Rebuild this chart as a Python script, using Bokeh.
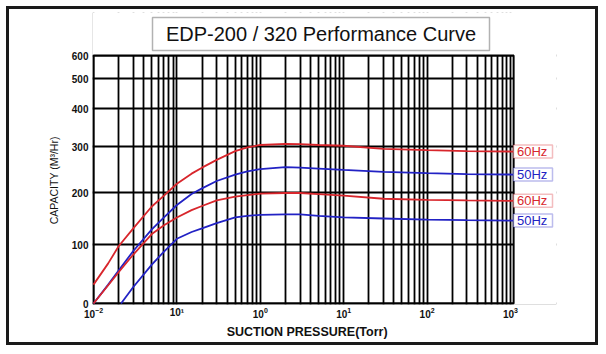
from bokeh.plotting import figure
from bokeh.models import FixedTicker, Label, PolyAnnotation, Range1d
from bokeh.embed import file_html
from bokeh.resources import INLINE
import numpy as np

# ---- data -------------------------------------------------------------
TITLE = "EDP-200 / 320 Performance Curve"
X_LABEL = "SUCTION PRESSURE(Torr)"
Y_LABEL = "CAPACITY (M³/Hr)"

# y axis of the original chart is non-linear: capacity ticks and their relative positions
Y_CAPS = [0, 100, 200, 300, 400, 500, 600]
Y_POS = [0, 59, 111, 157, 195, 225, 248]

X_TICKS = [0.01, 0.1, 1, 10, 100, 1000]
X_MAX = 1090
X_LABEL_OVERRIDES = {0.1: "10¹"}   # as printed on the original chart

P_STD = [0.01, 0.015, 0.02, 0.03, 0.05, 0.07, 0.1, 0.15, 0.2, 0.3, 0.5, 0.7,
         1, 2, 3, 5, 10, 30, 100, 300, 1090]
CAP_320_60HZ = [32, 68, 97, 131, 173, 194, 219, 241, 254, 271, 290, 298,
                304, 307, 306, 304, 302, 295, 292, 290, 289]
CAP_320_50HZ = [0, 32, 56, 89, 129, 152, 176, 197, 209, 225, 239, 246,
                251, 255, 254, 252, 249, 245, 242, 240, 239]
CAP_200_60HZ = [0, 31, 53, 83, 120, 137, 152, 166, 174, 185, 192, 195,
                198, 199, 199, 197, 194, 188, 186, 185, 184]

P_200_50HZ = [0.0214, 0.03, 0.05, 0.07, 0.1, 0.15, 0.2, 0.3, 0.5, 0.7,
              1, 2, 3, 5, 10, 30, 100, 300, 1090]
CAP_200_50HZ = [0, 28, 66, 88, 111, 124, 131, 141, 152, 155,
                157, 158, 158, 155, 152, 150, 148, 147, 146]

RED = "#d8262c"
BLUE = "#2222c4"
SERIES = [
    ("60Hz", P_STD, CAP_320_60HZ, RED),
    ("50Hz", P_STD, CAP_320_50HZ, BLUE),
    ("60Hz", P_STD, CAP_200_60HZ, RED),
    ("50Hz", P_200_50HZ, CAP_200_50HZ, BLUE),
]


def to_axis(cap):
    return np.interp(cap, Y_CAPS, Y_POS)


# ---- layout (page pixels) ---------------------------------------------
FONT = "Liberation Sans"
ORIGIN = 9                 # figure content starts inside the 3px page border
BORDER = 3
FIG_W, FIG_H = 586, 333
CANVAS_W, CANVAS_H = FIG_W + 2 * BORDER, FIG_H + 2 * BORDER   # canvas follows the border box
FRAME_L, FRAME_R, FRAME_T, FRAME_B = 92, 556, 12, 304
PLOT_L, PLOT_T = 93, 55     # where 10^-2 and 600 sit
PX_DEC = 83.4

x_start = X_TICKS[0] * 10 ** (-(PLOT_L - FRAME_L) / PX_DEC)
x_end = X_TICKS[0] * 10 ** ((FRAME_R - PLOT_L) / PX_DEC)
y_start = -(FRAME_B - 303)
y_end = Y_POS[-1] + (PLOT_T - FRAME_T)

p = figure(width=FIG_W, height=FIG_H, x_axis_type="log",
           x_range=Range1d(x_start, x_end), y_range=Range1d(y_start, y_end),
           output_backend="svg", toolbar_location=None,
           min_border_left=FRAME_L - ORIGIN,
           min_border_right=CANVAS_W - (FRAME_R - ORIGIN),
           min_border_top=FRAME_T - ORIGIN,
           min_border_bottom=CANVAS_H - (FRAME_B - ORIGIN))
p.styles = {"border": f"{BORDER}px solid #1a1a1a", "margin": "6px",
            "box-sizing": "content-box"}
p.background_fill_color = "white"
p.border_fill_color = "white"
p.outline_line_color = None

# grids
minor = [m * d for d in X_TICKS[:-1] for m in range(2, 10)]
xt = FixedTicker(ticks=X_TICKS, minor_ticks=minor)
yt = FixedTicker(ticks=Y_POS)
p.xaxis.ticker = xt
p.yaxis.ticker = yt
p.xgrid.ticker = xt
p.ygrid.ticker = yt
p.xgrid.grid_line_color = "black"
p.xgrid.grid_line_width = 1.8
p.xgrid.minor_grid_line_color = "black"
p.xgrid.minor_grid_line_width = 1.8
p.ygrid.grid_line_color = "black"
p.ygrid.grid_line_width = 1.8

# mask the parts of the frame that lie outside the plotting area
p.quad(left=[X_MAX, x_start / 2], right=[x_end * 2, X_MAX],
       bottom=[y_start - 10, Y_POS[-1]], top=[y_end + 10, y_end + 10],
       fill_color="white", line_color=None)
p.quad(left=[X_TICKS[0]], right=[X_MAX], bottom=[Y_POS[0]], top=[Y_POS[-1]],
       fill_alpha=0, line_color="black", line_width=2)

# axes
p.axis.axis_line_color = None
p.axis.major_tick_line_color = None
p.axis.minor_tick_line_color = None
p.axis.major_tick_out = 0
p.axis.major_tick_in = 0
p.axis.minor_tick_out = 0
p.axis.minor_tick_in = 0
p.axis.major_label_text_font = FONT
p.axis.major_label_text_font_style = "bold"
p.axis.major_label_text_font_size = "10px"
p.axis.major_label_text_color = "#111111"
p.xaxis.major_label_overrides = X_LABEL_OVERRIDES
p.yaxis.major_label_overrides = {pos: str(c) for pos, c in zip(Y_POS, Y_CAPS)}
p.xaxis.major_label_standoff = 2
p.yaxis.major_label_standoff = 4

NB = "\u00a0"
p.xaxis.axis_label = X_LABEL + NB * 10
p.xaxis.axis_label_text_font = FONT
p.xaxis.axis_label_text_font_style = "bold"
p.xaxis.axis_label_text_font_size = "12.5px"
p.xaxis.axis_label_standoff = 4
p.yaxis.axis_label = Y_LABEL + NB * 15
p.yaxis.axis_label_text_font = FONT
p.yaxis.axis_label_text_font_style = "normal"
p.yaxis.axis_label_text_font_size = "10.5px"
p.yaxis.axis_label_standoff = 9
p.axis.axis_label_text_color = "#111111"

# title box (screen units: x from frame left, y from frame bottom)
p.add_layout(PolyAnnotation(xs=[152 - FRAME_L, 489 - FRAME_L, 489 - FRAME_L, 152 - FRAME_L],
                            ys=[FRAME_B - 17, FRAME_B - 17, FRAME_B - 50, FRAME_B - 50],
                            xs_units="screen", ys_units="screen",
                            fill_color="white", fill_alpha=1,
                            line_color="black", line_width=1.5))
p.add_layout(Label(x=320.5 - FRAME_L, y=FRAME_B - 33.5,
                   x_units="screen", y_units="screen",
                   text=TITLE, text_align="center", text_baseline="middle",
                   text_font=FONT, text_font_size="20px", text_color="#111111"))

# curves and end labels
for name, px, cap, col in SERIES:
    ys = to_axis(cap)
    p.line(px, ys, line_color=col, line_width=1.8)
    yc = float(ys[-1])
    p.add_layout(PolyAnnotation(xs=[513 - FRAME_L, 552 - FRAME_L, 552 - FRAME_L, 513 - FRAME_L],
                                ys=[yc - 6.5, yc - 6.5, yc + 6.5, yc + 6.5],
                                xs_units="screen", ys_units="data",
                                fill_color="white", fill_alpha=1,
                                line_color=col, line_width=1.5))
    p.add_layout(Label(x=516.5 - FRAME_L, y=yc, x_units="screen", text=name,
                       text_align="left", text_baseline="middle",
                       text_color=col, text_font=FONT, text_font_size="13px"))

open("out.html", "w").write(file_html(p, INLINE))
